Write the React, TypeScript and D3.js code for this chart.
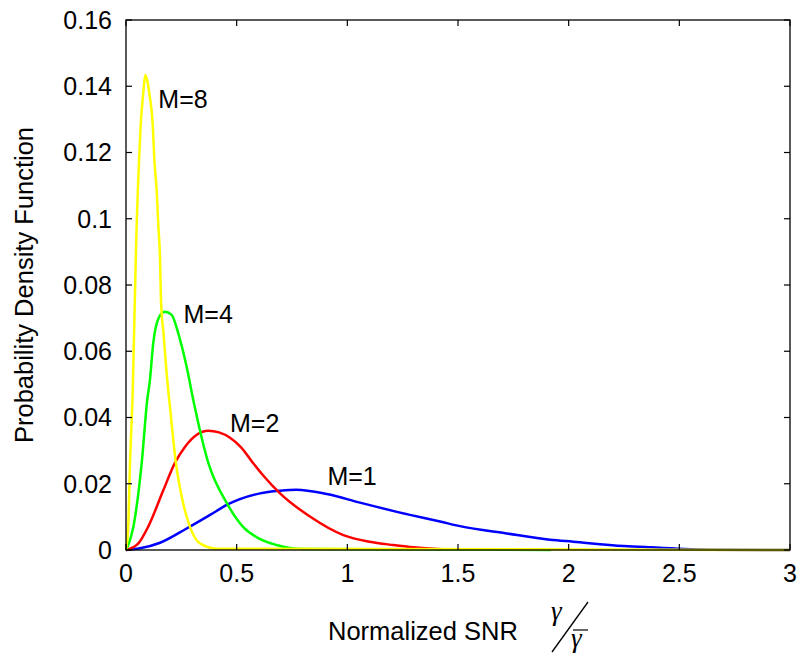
import React from "react";
import * as d3 from "d3";

const X_TICKS = [0, 0.5, 1, 1.5, 2, 2.5, 3];
const Y_TICKS = [0, 0.02, 0.04, 0.06, 0.08, 0.1, 0.12, 0.14, 0.16];
const X_TICK_LABELS = ["0", "0.5", "1", "1.5", "2", "2.5", "3"];
const Y_TICK_LABELS = ["0", "0.02", "0.04", "0.06", "0.08", "0.1", "0.12", "0.14", "0.16"];

const M1_X = [0, 0.063, 0.154, 0.274, 0.38, 0.455, 0.605, 0.696, 0.77, 0.907, 1.057, 1.283, 1.419, 1.509, 1.72, 1.916, 2.02, 2.25, 2.37, 2.64, 3];
const M1_Y = [0, 0.0005, 0.0022, 0.0065, 0.0106, 0.0136, 0.0171, 0.0179, 0.0182, 0.0169, 0.0143, 0.0106, 0.0086, 0.0072, 0.005, 0.0031, 0.0025, 0.0012, 0.0008, 0.0001, 0];

const M2_X = [0, 0.056, 0.1, 0.169, 0.221, 0.267, 0.32, 0.372, 0.42, 0.47, 0.52, 0.575, 0.62, 0.696, 0.831, 0.982, 1.1, 1.208, 1.3, 1.43];
const M2_Y = [0, 0.002, 0.007, 0.0181, 0.0263, 0.0312, 0.0348, 0.036, 0.0355, 0.0339, 0.031, 0.0262, 0.0225, 0.0171, 0.0101, 0.0045, 0.0025, 0.0015, 0.0008, 0.0002];

const M4_X = [0, 0.01, 0.033, 0.071, 0.096, 0.108, 0.123, 0.15, 0.176, 0.206, 0.236, 0.274, 0.304, 0.372, 0.455, 0.53, 0.6, 0.68, 0.8, 1.92];
const M4_Y = [0, 0.0015, 0.0069, 0.0263, 0.0453, 0.0513, 0.0624, 0.0704, 0.0719, 0.071, 0.0655, 0.0553, 0.0453, 0.0263, 0.0142, 0.0069, 0.0035, 0.0015, 0.0003, 0];

const M8_X = [0, 0.01, 0.018, 0.03, 0.044, 0.048, 0.053, 0.059, 0.066, 0.078, 0.087, 0.095, 0.105, 0.121, 0.128, 0.139, 0.146, 0.154, 0.158, 0.17, 0.184, 0.199, 0.226, 0.252, 0.289, 0.334, 0.41, 3];
const M8_Y = [0, 0.007, 0.026, 0.047, 0.0875, 0.0976, 0.1077, 0.1177, 0.1278, 0.138, 0.1434, 0.142, 0.138, 0.128, 0.118, 0.108, 0.098, 0.0875, 0.0755, 0.065, 0.053, 0.043, 0.026, 0.016, 0.007, 0.002, 0.0004, 0];

const SERIES = [
  { name: "M=1", xs: M1_X, ys: M1_Y, color: "#0000ff", lx: 0.91, ly: 0.0195 },
  { name: "M=2", xs: M2_X, ys: M2_Y, color: "#ff0000", lx: 0.47, ly: 0.0355 },
  { name: "M=4", xs: M4_X, ys: M4_Y, color: "#00ff00", lx: 0.26, ly: 0.0685 },
  { name: "M=8", xs: M8_X, ys: M8_Y, color: "#ffff00", lx: 0.146, ly: 0.1335 },
];

const FONT = "'Liberation Sans', Arial, Helvetica, sans-serif";

export default function App() {
  const W = 805, H = 655;
  const left = 126, right = 790, top = 20, bottom = 550;
  const x = d3.scaleLinear().domain([0, 3]).range([left, right]);
  const y = d3.scaleLinear().domain([0, 0.16]).range([bottom, top]);
  const line = d3.line<[number, number]>().x(d => x(d[0])).y(d => y(d[1])).curve(d3.curveMonotoneX);
  const tick = 6;
  return (
    <svg width={W} height={H} style={{ position: "absolute", left: 0, top: 0, background: "#fff" }} fontFamily={FONT}>
      <rect x={0} y={0} width={W} height={H} fill="#fff" />
      {SERIES.map(s => (
        <path key={s.name} d={line(s.xs.map((v, i) => [v, s.ys[i]]) as [number, number][]) || ""}
          fill="none" stroke={s.color} strokeWidth={2.5} strokeLinejoin="round" />
      ))}
      <rect x={left} y={top} width={right - left} height={bottom - top} fill="none" stroke="#000" strokeWidth={1.3} />
      {X_TICKS.map((t, i) => (
        <g key={"xt" + i}>
          <line x1={x(t)} x2={x(t)} y1={bottom} y2={bottom - tick} stroke="#000" strokeWidth={1.2} />
          <line x1={x(t)} x2={x(t)} y1={top} y2={top + tick} stroke="#000" strokeWidth={1.2} />
          <text x={x(t)} y={582} textAnchor="middle" fontSize={25}>{X_TICK_LABELS[i]}</text>
        </g>
      ))}
      {Y_TICKS.map((t, i) => (
        <g key={"yt" + i}>
          <line x1={left} x2={left + tick} y1={y(t)} y2={y(t)} stroke="#000" strokeWidth={1.2} />
          <line x1={right} x2={right - tick} y1={y(t)} y2={y(t)} stroke="#000" strokeWidth={1.2} />
          <text x={112} y={y(t)} dy="0.35em" textAnchor="end" fontSize={25}>{Y_TICK_LABELS[i]}</text>
        </g>
      ))}
      {SERIES.map(s => (
        <text key={"l" + s.name} x={x(s.lx)} y={y(s.ly)} fontSize={25}>{s.name}</text>
      ))}
      <text x={0} y={0} transform={`translate(33,285) rotate(-90)`} textAnchor="middle" fontSize={25.5}>Probability Density Function</text>
      <text x={328} y={640} fontSize={25.5}>Normalized SNR</text>
      <text x={551} y={620} fontSize={27} fontStyle="italic" fontFamily="'Liberation Serif', 'Times New Roman', serif">γ</text>
      <line x1={588} y1={602} x2={552} y2={652} stroke="#000" strokeWidth={1.3} />
      <line x1={573} y1={630} x2={588} y2={630} stroke="#000" strokeWidth={1.2} />
      <text x={571} y={647} fontSize={27} fontStyle="italic" fontFamily="'Liberation Serif', 'Times New Roman', serif">γ</text>
    </svg>
  );
}
